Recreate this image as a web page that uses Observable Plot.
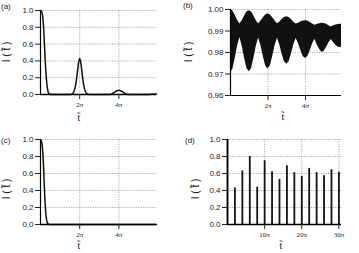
<!DOCTYPE html>
<html><head><meta charset="utf-8">
<script src="https://cdn.jsdelivr.net/npm/d3@7"></script>
<script src="https://cdn.jsdelivr.net/npm/@observablehq/plot@0.6"></script>
<style>
html,body{margin:0;padding:0;background:#fff;}
#wrap{position:relative;width:359px;height:253px;overflow:hidden;font-family:"Liberation Sans",Arial,sans-serif;}
.panel{position:absolute;}
.lbl{position:absolute;font-size:8px;color:#222;line-height:1;}
.tl{position:absolute;font-family:"Liberation Serif",serif;font-size:10px;line-height:1;transform:translate(-50%,-50%);color:#111;}
.yl{position:absolute;font-size:10px;line-height:1;transform:translate(-50%,-50%) rotate(-90deg);white-space:pre;color:#111;}
</style></head><body><div id="wrap"></div>
<script>
// ---- data (t in units of π) ----
const tA = [0,0.05,0.1,0.15,0.2,0.25,0.3,0.35,0.4,0.45,0.5,0.6,1.5,1.6,1.7,1.8,1.85,1.9,1.95,2.0,2.05,2.1,2.15,2.2,2.3,2.4,2.5,3.4,3.6,3.7,3.8,3.9,4.0,4.1,4.2,4.3,4.4,4.6,5.5,5.7,5.92];
const iA = [1.0,0.99,0.95,0.83,0.6,0.36,0.19,0.08,0.025,0.008,0.002,0,0,0.005,0.03,0.12,0.2,0.3,0.39,0.43,0.39,0.3,0.2,0.12,0.03,0.005,0,0,0.004,0.015,0.03,0.045,0.05,0.045,0.03,0.015,0.004,0,0,0.004,0.006];

const tB = [0,0.125,0.25,0.375,0.5,0.625,0.75,0.875,1,1.125,1.25,1.375,1.5,1.625,1.75,1.875,2,2.125,2.25,2.375,2.5,2.625,2.75,2.875,3,3.125,3.25,3.375,3.5,3.625,3.75,3.875,4,4.125,4.25,4.375,4.5,4.625,4.75,4.875,5,5.125,5.25,5.375,5.5,5.625,5.75,5.875,5.92];
const upB = [1.000,0.9993,0.9973,0.9950,0.9933,
  0.9948,0.9970,0.9988,0.9994,0.9988,0.9970,0.9948,0.9933,
  0.9946,0.9962,0.9975,0.9980,0.9975,0.9962,0.9946,0.9934,
  0.9941,0.9953,0.9963,0.9966,0.9963,0.9953,0.9941,0.9932,
  0.9936,0.9942,0.9946,0.9948,0.9946,0.9940,0.9932,0.9927,
  0.9930,0.9934,0.9936,0.9935,0.9931,0.9925,0.9919,
  0.9924,0.9928,0.9930,0.9931,0.9931];
const loB = [0.9705,0.9722,0.9771,0.9829,0.9870,
  0.9829,0.9774,0.9726,0.9710,0.9726,0.9774,0.9829,0.9868,
  0.9831,0.9781,0.9737,0.9723,0.9737,0.9781,0.9831,0.9866,
  0.9836,0.9793,0.9757,0.9745,0.9757,0.9793,0.9836,0.9865,
  0.9842,0.9809,0.9781,0.9772,0.9781,0.9808,0.9840,0.9862,
  0.9835,0.9815,0.9800,0.9806,0.9824,0.9845,0.9860,
  0.9845,0.9832,0.9825,0.9823,0.9824];

const tC = [0,0.05,0.1,0.15,0.2,0.25,0.3,0.35,0.4,0.45,5.92];
const iC = [1.0,0.98,0.9,0.72,0.42,0.2,0.07,0.02,0.004,0,0];

const tD = [0,2,4,6,8,10,12,14,16,18,20,22,24,26,28,30];
const hD = [1.0,0.43,0.63,0.80,0.44,0.75,0.62,0.53,0.69,0.61,0.565,0.66,0.61,0.575,0.645,0.615];

const ticksAx = [2,4], ticksDx = [10,20,30];
const ticksY1 = [0,0.2,0.4,0.6,0.8,1.0];
const ticksYB = [0.96,0.97,0.98,0.99,1.00];

// ---- helpers ----
const wrap = document.getElementById("wrap");
function panel(o){
  const p = Plot.plot({
    width:o.width, height:o.height,
    marginTop:o.m[0], marginRight:o.m[1], marginBottom:o.m[2], marginLeft:o.m[3],
    style:{background:"transparent", fontFamily:"Liberation Sans, Arial, sans-serif", fontSize:"8px", color:"#222", overflow:"visible"},
    x:{domain:o.xd},
    y:{domain:o.yd},
    marks:[
      Plot.gridX(o.xt,{stroke:"#888",strokeOpacity:1,strokeWidth:0.7,strokeDasharray:"1.2,1.2"}),
      Plot.gridY(o.yt.filter(v=>v!==o.yd[0]),{stroke:"#888",strokeOpacity:1,strokeWidth:0.7,strokeDasharray:"1.2,1.2"}),
      ...o.marks,
      Plot.ruleX([o.xd[0]],{stroke:"#000",strokeWidth:1.2}),
      Plot.ruleY([o.yd[0]],{stroke:"#000",strokeWidth:o.bw||1.2}),
      Plot.axisX(o.xt,{tickSize:5,tickPadding:3,tickFormat:d=>d+"π",label:null,fontFamily:"Liberation Serif, serif",fontSize:7}),
      Plot.axisY(o.yt,{tickSize:5,tickPadding:2,tickFormat:o.yf,label:null,fontSize:8})
    ]
  });
  p.classList.add("panel");
  p.style.left=o.left+"px"; p.style.top=o.top+"px";
  wrap.appendChild(p);
}
function text(cls, s, x, y){
  const d=document.createElement("div"); d.className=cls; d.textContent=s;
  d.style.left=x+"px"; d.style.top=y+"px"; wrap.appendChild(d);
}

const dataA = tA.map((t,i)=>({t, I:iA[i]}));
const dataB = tB.map((t,i)=>({t, lo:loB[i], hi:upB[i]}));
const dataC = tC.map((t,i)=>({t, I:iC[i]}));
const dataD = tD.map((t,i)=>({t, I:hD[i]}));
const f1 = d3.format(".1f"), f2 = d3.format(".2f");

panel({left:0,top:0,width:179,height:126,m:[10,23,32,40],xd:[0,5.92],yd:[0,1],xt:ticksAx,yt:ticksY1,yf:f1,bw:1.5,
  marks:[Plot.line(dataA,{x:"t",y:"I",stroke:"#111",strokeWidth:1.5,curve:"monotone-x"})]});
panel({left:179,top:0,width:180,height:126,m:[9,18,31,51],xd:[0,5.92],yd:[0.96,1.0],xt:ticksAx,yt:ticksYB,yf:f2,bw:1.1,
  marks:[Plot.areaY(dataB,{x:"t",y1:"lo",y2:"hi",fill:"#111"})]});
panel({left:0,top:126,width:179,height:127,m:[13,23,29,40],xd:[0,5.92],yd:[0,1],xt:ticksAx,yt:ticksY1,yf:f1,bw:1.5,
  marks:[Plot.line(dataC,{x:"t",y:"I",stroke:"#111",strokeWidth:1.5,curve:"monotone-x"})]});
panel({left:179,top:126,width:180,height:127,m:[13,18,29,48],xd:[0,30.7],yd:[0,1],xt:ticksDx,yt:ticksY1,yf:f1,bw:1.6,
  marks:[Plot.ruleX(dataD,{x:"t",y1:0,y2:"I",stroke:"#111",strokeWidth:1.8})]});

text("lbl","(a)",1,3); text("lbl","(b)",183,2); text("lbl","(c)",1,137); text("lbl","(d)",185,137);
const tt = "t\u0303";
text("tl",tt,79,118); text("tl",tt,283,117); text("tl",tt,79,246); text("tl",tt,281,246);
const yl = "I ( t\u0303 )";
text("yl",yl,7,52); text("yl",yl,189,52); text("yl",yl,7,189); text("yl",yl,196,189);
</script></body></html>
